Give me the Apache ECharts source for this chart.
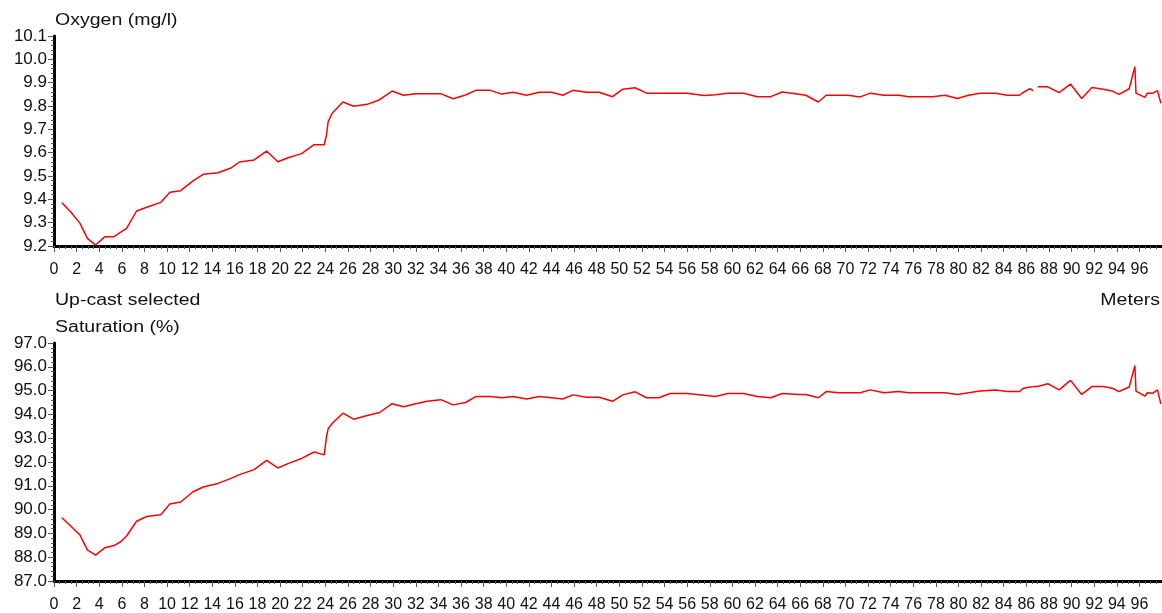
<!DOCTYPE html>
<html><head><meta charset="utf-8">
<script src="https://cdn.jsdelivr.net/npm/echarts@6/dist/echarts.min.js"></script>
<style>html,body{margin:0;padding:0;background:#fff}#c{width:1162px;height:613px}</style>
</head><body><div id="c"></div>
<script>
// Depth in meters (shared by both profiles)
const depth = [0.7,1.5,2.3,2.95,3.68,4.5,5.3,5.9,6.42,7.3,8.2,9.45,10.25,11.2,12.3,13.2,14.5,15.6,16.4,17.7,18.8,19.8,20.7,21.9,23.0,23.9,24.1,24.25,24.6,25.55,26.5,27.7,28.8,29.9,30.9,32.0,33.0,34.2,35.3,36.4,37.3,38.6,39.6,40.6,41.8,42.9,44.0,45.0,45.9,47.1,48.2,49.4,50.3,51.4,52.4,53.5,54.5,56.0,57.5,58.5,59.6,61.0,62.2,63.4,64.4,65.9,66.5,67.6,68.3,69.4,70.2,71.3,72.2,73.4,74.7,75.6,77.7,78.8,79.9,80.9,81.9,83.3,84.3,85.4,85.7,86.3,86.6,86.8,87.0,87.9,88.9,89.9,90.9,91.8,92.8,93.6,94.2,95.1,95.6,95.7,96.5,96.7,97.2,97.6,97.9];
// Oxygen (mg/l)
const oxygen = [9.385,9.345,9.297,9.233,9.204,9.240,9.240,9.259,9.276,9.350,9.366,9.387,9.430,9.437,9.479,9.507,9.514,9.533,9.560,9.569,9.607,9.561,9.578,9.596,9.634,9.634,9.676,9.733,9.769,9.817,9.799,9.807,9.827,9.864,9.846,9.853,9.853,9.853,9.831,9.847,9.867,9.867,9.851,9.859,9.846,9.859,9.859,9.846,9.867,9.859,9.859,9.840,9.872,9.878,9.855,9.855,9.855,9.855,9.845,9.848,9.855,9.855,9.840,9.840,9.860,9.850,9.846,9.817,9.846,9.846,9.846,9.839,9.855,9.846,9.846,9.840,9.840,9.846,9.832,9.846,9.855,9.855,9.846,9.846,9.857,9.874,9.866,null,9.882,9.882,9.857,9.894,9.832,9.879,9.872,9.864,9.850,9.874,9.969,9.855,9.837,9.855,9.855,9.866,9.812];
// Saturation (%)
const saturation = [89.66,89.30,88.93,88.31,88.09,88.40,88.49,88.65,88.89,89.51,89.71,89.78,90.24,90.32,90.75,90.95,91.10,91.30,91.47,91.68,92.07,91.75,91.93,92.15,92.42,92.30,93.05,93.40,93.62,94.05,93.80,93.95,94.08,94.45,94.32,94.45,94.55,94.62,94.40,94.50,94.75,94.75,94.70,94.75,94.65,94.75,94.70,94.65,94.82,94.72,94.72,94.55,94.82,94.95,94.70,94.70,94.88,94.88,94.80,94.75,94.88,94.88,94.75,94.70,94.88,94.84,94.84,94.70,94.96,94.91,94.91,94.91,95.03,94.91,94.96,94.91,94.91,94.91,94.84,94.91,94.98,95.03,94.96,94.96,95.09,95.15,95.16,95.17,95.17,95.29,95.03,95.43,94.84,95.17,95.17,95.10,94.96,95.15,96.05,94.98,94.77,94.91,94.89,95.03,94.44];

const titleTop = 'Oxygen (mg/l)';
const titleMid = 'Up-cast selected';
const titleBottom = 'Saturation (%)';
const xTitle = 'Meters';

const FONT = "'Liberation Sans', Arial, sans-serif";
const chart = echarts.init(document.getElementById('c'));

function xAxis(gridIndex) {
  return {
    type: 'value', gridIndex, min: 0, max: 98, interval: 2,
    axisLine: { show: true, lineStyle: { color: '#000', width: 3 } },
    axisTick: { show: true, length: 6, lineStyle: { color: '#555', width: 1 } },
    minorTick: { show: true, splitNumber: 4, length: 3, lineStyle: { color: '#555', width: 1 } },
    splitLine: { show: false },
    axisLabel: { showMaxLabel: false, margin: 16, color: '#111', fontSize: 16, fontFamily: FONT }
  };
}
function yAxis(gridIndex, min, max, interval, digits) {
  return {
    type: 'value', gridIndex, min, max, interval,
    axisLine: { show: true, lineStyle: { color: '#000', width: 3 } },
    axisTick: { show: true, length: 6, lineStyle: { color: '#555', width: 1 } },
    minorTick: { show: true, splitNumber: 5, length: 3, lineStyle: { color: '#555', width: 1 } },
    splitLine: { show: false },
    axisLabel: { margin: 7, color: '#111', fontSize: 17, fontFamily: FONT,
      formatter: v => v.toFixed(digits) }
  };
}
function titleText(text, x, y, align) {
  return { type: 'text', x, y, scaleX: 1.22, originX: 0, originY: 0,
    style: { text, fill: '#111', font: "16px " + FONT, textAlign: align || 'left', textVerticalAlign: 'middle' } };
}

chart.setOption({
  animation: false,
  backgroundColor: '#fff',
  grid: [
    { left: 54, top: 36, width: 1108, height: 210 },
    { left: 54, top: 343, width: 1108, height: 242 }
  ],
  xAxis: [xAxis(0), xAxis(1)],
  yAxis: [yAxis(0, 9.2, 10.1, 0.1, 1), yAxis(1, 87, 97, 1, 1)],
  graphic: [
    titleText(titleTop, 55, 21),
    titleText(titleMid, 55, 301),
    titleText(titleBottom, 55, 328),
    titleText(xTitle, 1160, 301, 'right')
  ],
  series: [
    { type: 'line', xAxisIndex: 0, yAxisIndex: 0, showSymbol: false, connectNulls: false,
      lineStyle: { color: '#ff0000', width: 1.5 },
      data: depth.map((d, i) => [d, oxygen[i] == null ? '-' : oxygen[i]]) },
    { type: 'line', xAxisIndex: 1, yAxisIndex: 1, showSymbol: false,
      lineStyle: { color: '#ff0000', width: 1.5 },
      data: depth.map((d, i) => [d, saturation[i]]) }
  ]
});
</script>
</body></html>
